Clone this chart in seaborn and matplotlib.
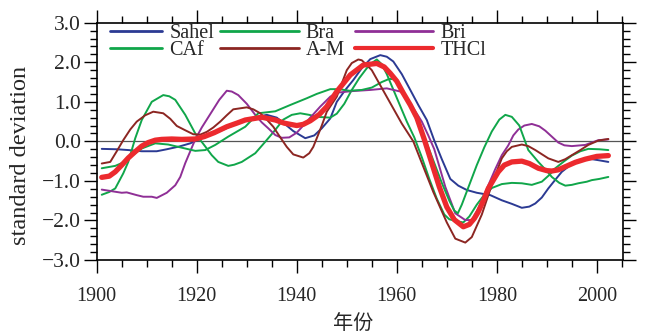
import numpy as np
import pandas as pd
import matplotlib
matplotlib.use("Agg")
import matplotlib.pyplot as plt
import seaborn as sns
from matplotlib.ticker import MultipleLocator, FuncFormatter

# ---------------- data ----------------
sahel_years = [1901, 1904, 1906.3, 1909, 1912, 1914, 1916.5, 1918.7, 1920.5, 1922.7, 1925, 1927.3,
               1930.7, 1934, 1936, 1937.5, 1939.3, 1941.7, 1943.5, 1945, 1946.7, 1948, 1949.7,
               1951.3, 1953, 1954.7, 1956.7, 1958, 1959.3, 1961, 1962.7, 1964.3, 1966, 1967.5,
               1969, 1970.7, 1972.3, 1974, 1976, 1978.7, 1981, 1983, 1985, 1986.5, 1987.7, 1989,
               1990.3, 1991.7, 1993, 1994.7, 1996.3, 1999, 2000.5, 2002.3]
sahel_vals = [-0.19, -0.20, -0.22, -0.25, -0.25, -0.20, -0.13, -0.05, 0.05, 0.16, 0.28, 0.41,
              0.58, 0.67, 0.60, 0.45, 0.26, 0.08, 0.15, 0.33, 0.58, 1.00, 1.30,
              1.55, 1.85, 2.08, 2.18, 2.14, 2.02, 1.70, 1.30, 0.92, 0.54, 0.02,
              -0.45, -0.95, -1.12, -1.23, -1.30, -1.36, -1.49, -1.58, -1.68, -1.65, -1.57, -1.42,
              -1.19, -0.97, -0.77, -0.60, -0.47, -0.45, -0.48, -0.52]

bra_years = [1901, 1902.5, 1903.7, 1905.3, 1906.3, 1907.7, 1909, 1911, 1913.3, 1914.5, 1915.7,
             1917.7, 1919.7, 1921.7, 1923, 1924.3, 1926.3, 1927.5, 1929, 1931.7, 1933.7, 1935.7,
             1937.3, 1939, 1940.7, 1942.5, 1944, 1946.7, 1948, 1949.5, 1951, 1952.5, 1954, 1955,
             1956, 1957, 1958, 1959, 1960.5, 1962, 1963.5, 1965, 1966.5, 1968, 1969.5, 1970.5,
             1972, 1973.3, 1974.5, 1976, 1977.5, 1979, 1981, 1983, 1985, 1987, 1989, 1990.5,
             1991.7, 1993.5, 1995, 1996.7, 1998.3, 2000.5, 2002.3]
bra_vals = [-1.35, -1.28, -1.19, -0.81, -0.52, 0.08, 0.54, 1.00, 1.17, 1.14, 1.05,
            0.67, 0.20, -0.13, -0.35, -0.52, -0.62, -0.59, -0.52, -0.30, -0.01, 0.29,
            0.55, 0.67, 0.71, 0.67, 0.62, 0.60, 0.70, 0.95, 1.30, 1.60, 1.85, 1.98,
            2.07, 1.95, 1.70, 1.40, 0.95, 0.50, 0.10, -0.40, -0.95, -1.45, -1.85, -1.97,
            -2.02, -2.05, -1.90, -1.60, -1.35, -1.18, -1.08, -1.05, -1.06, -1.10, -1.02, -0.85,
            -0.68, -0.50, -0.36, -0.25, -0.19, -0.20, -0.22]

bri_years = [1901, 1903, 1905, 1906, 1908, 1909.3, 1911, 1912, 1914, 1915.7, 1916.7, 1917.7,
             1918.7, 1919.7, 1921, 1923, 1924.5, 1926, 1927, 1928.3, 1930, 1931.7, 1933, 1934.3,
             1935.7, 1937, 1938.5, 1940, 1941.3, 1942.7, 1944.7, 1946.7, 1948, 1951, 1954.7,
             1958, 1960.7, 1962, 1963.3, 1965, 1966.3, 1967.5, 1969.7, 1971.7, 1973.7, 1975,
             1976.5, 1978.3, 1979.7, 1981, 1982.3, 1983.3, 1984.3, 1985.5, 1987, 1988.5, 1989.7,
             1991, 1992.3, 1993.5, 1995, 1997.7, 1999, 2000.3, 2002.3]
bri_vals = [-1.22, -1.26, -1.30, -1.29, -1.36, -1.40, -1.40, -1.43, -1.30, -1.11, -0.90, -0.55,
            -0.25, 0.05, 0.35, 0.75, 1.05, 1.28, 1.26, 1.17, 0.95, 0.67, 0.48, 0.33,
            0.16, 0.09, 0.10, 0.22, 0.40, 0.60, 0.88, 1.13, 1.23, 1.27, 1.30,
            1.34, 1.26, 1.10, 0.84, 0.50, 0.15, -0.20, -1.15, -1.82, -1.99, -1.99,
            -1.65, -1.11, -0.70, -0.35, -0.10, 0.15, 0.30, 0.40, 0.44, 0.38, 0.27,
            0.12, -0.03, -0.10, -0.12, -0.09, -0.03, 0.03, 0.05]

caf_years = [1901, 1903.7, 1905, 1906.3, 1909, 1911.7, 1914.3, 1917, 1919.7, 1921.7, 1923.7,
             1926.3, 1929.7, 1932.3, 1935.7, 1938.7, 1942, 1944, 1946.7, 1948.5, 1950.5, 1953,
             1955, 1957, 1958.5, 1959.5, 1960.5, 1961.7, 1963, 1964.5, 1966, 1967.5, 1969,
             1970.5, 1971.5, 1972.2, 1973, 1974.5, 1976, 1977.5, 1979, 1980.5, 1981.7, 1983,
             1984.5, 1986.3, 1988.3, 1990, 1991, 1992.5, 1993.7, 1995, 1996.3, 1998, 1999,
             2000.5, 2002.3]
caf_vals = [-0.68, -0.62, -0.55, -0.43, -0.18, -0.05, -0.08, -0.16, -0.24, -0.22, -0.09,
            0.12, 0.37, 0.71, 0.76, 0.92, 1.09, 1.20, 1.32, 1.32, 1.28, 1.30,
            1.36, 1.50, 1.58, 1.57, 1.45, 1.15, 0.80, 0.40, -0.05, -0.55, -1.05,
            -1.50, -1.75, -1.82, -1.60, -1.10, -0.60, -0.15, 0.25, 0.55, 0.67, 0.62,
            0.40, -0.22, -0.52, -0.75, -0.90, -1.05, -1.12, -1.10, -1.06, -1.02, -0.98,
            -0.95, -0.90]

am_years = [1901, 1902.7, 1904, 1905.3, 1906.7, 1908, 1909.7, 1911.3, 1913.3, 1914.7, 1916,
            1917.7, 1919.3, 1920.7, 1922, 1923.3, 1924.7, 1926, 1927.3, 1930, 1931.3, 1932.7,
            1934, 1935.3, 1936.7, 1938, 1939.3, 1941.3, 1942.5, 1943.3, 1944, 1945, 1946, 1948,
            1950, 1951, 1952.3, 1953, 1954, 1955, 1957, 1959, 1961, 1963.3, 1964.7, 1967.3,
            1970, 1971.7, 1973.7, 1975, 1977, 1978.3, 1979.7, 1981, 1982, 1983, 1985, 1986.3,
            1987.7, 1990.3, 1992.3, 1993.7, 1995, 1996.7, 1998.3, 2000.3, 2002.3]
am_vals = [-0.56, -0.52, -0.25, 0.03, 0.30, 0.50, 0.66, 0.75, 0.71, 0.57, 0.39,
           0.28, 0.18, 0.17, 0.24, 0.35, 0.50, 0.66, 0.81, 0.86, 0.81, 0.71,
           0.55, 0.37, 0.10, -0.14, -0.33, -0.41, -0.30, -0.14, 0.08, 0.40, 0.75, 1.13,
           1.80, 1.98, 2.07, 2.05, 1.93, 1.80, 1.35, 0.90, 0.45, 0.00, -0.45, -1.28,
           -2.05, -2.46, -2.56, -2.42, -1.85, -1.36, -0.85, -0.43, -0.25, -0.14, -0.08, -0.12,
           -0.22, -0.43, -0.52, -0.45, -0.35, -0.22, -0.09, 0.02, 0.06]

thcl_years = [1901, 1902.5, 1903.7, 1905, 1906.3, 1907.7, 1909, 1910.3, 1911.7, 1913, 1915,
              1917, 1919.7, 1921.5, 1923.5, 1926, 1928, 1929.7, 1933, 1935.7, 1937.5, 1940,
              1941.3, 1942.7, 1944.5, 1946, 1948, 1950.7, 1953.3, 1956, 1957.5, 1958.7, 1960,
              1961.3, 1962.7, 1964, 1965.5, 1967, 1968.5, 1970, 1971.5, 1973.3, 1974.5, 1975.5,
              1976.3, 1977.3, 1978.3, 1980.3, 1981.5, 1983, 1985, 1986.5, 1988.3, 1990, 1991,
              1992.3, 1993.7, 1995.7, 1997.7, 2000, 2002.3]
thcl_vals = [-0.91, -0.88, -0.77, -0.60, -0.42, -0.26, -0.12, -0.03, 0.03, 0.05, 0.06,
             0.05, 0.06, 0.12, 0.22, 0.37, 0.46, 0.54, 0.61, 0.54, 0.46, 0.40,
             0.43, 0.52, 0.68, 0.88, 1.26, 1.68, 1.93, 1.97, 1.88, 1.72, 1.52,
             1.22, 0.92, 0.60, 0.05, -0.55, -1.15, -1.66, -1.98, -2.16, -2.10, -1.95,
             -1.78, -1.50, -1.19, -0.77, -0.60, -0.52, -0.50, -0.56, -0.68, -0.74, -0.75,
             -0.72, -0.64, -0.53, -0.45, -0.38, -0.36]

series_names = ["Sahel", "Bra", "Bri", "CAf", "A-M", "THCl"]
x_ticks = [1900, 1920, 1940, 1960, 1980, 2000]
y_ticks = [-3.0, -2.0, -1.0, 0.0, 1.0, 2.0, 3.0]

# ---------------- style ----------------
sns.set_style("ticks")
plt.rcParams["font.family"] = ["Liberation Serif", "Noto Sans CJK SC"]
plt.rcParams["axes.unicode_minus"] = True

colors = {"Sahel": "#2b3a93", "Bra": "#10a64a", "Bri": "#8f2f96",
          "CAf": "#10a64a", "A-M": "#8c2622", "THCl": "#ec2a2e"}
widths = {"Sahel": 1.4, "Bra": 1.4, "Bri": 1.4, "CAf": 1.4, "A-M": 1.4, "THCl": 3.8}

data = {"Sahel": (sahel_years, sahel_vals), "Bra": (bra_years, bra_vals),
        "Bri": (bri_years, bri_vals), "CAf": (caf_years, caf_vals),
        "A-M": (am_years, am_vals), "THCl": (thcl_years, thcl_vals)}

frames = []
for name in series_names:
    yrs, vals = data[name]
    frames.append(pd.DataFrame({"year": yrs, "value": vals, "series": name}))
df = pd.concat(frames, ignore_index=True)

fig = plt.figure(figsize=(6.45, 3.33), dpi=100)
ax = fig.add_axes([0.150, 0.2192, 0.8164, 0.7126])

ax.axhline(0, color="#555555", lw=0.9, zorder=1)

handles = {}
for i, name in enumerate(series_names):
    sub = df[df["series"] == name]
    sns.lineplot(data=sub, x="year", y="value", ax=ax, color=colors[name],
                 lw=widths[name], estimator=None, sort=False, legend=False,
                 zorder=10 if name == "THCl" else 3 + i)
    handles[name] = ax.lines[-1]
    handles[name].set_solid_joinstyle("round")

ax.set_xlim(1900, 2005.3)
ax.set_ylim(-3, 3)
ax.set_xticks(x_ticks)
ax.set_yticks(y_ticks)
ax.xaxis.set_minor_locator(MultipleLocator(5))
ax.yaxis.set_minor_locator(MultipleLocator(0.2))
ax.yaxis.set_major_formatter(FuncFormatter(lambda v, p: f"{v:.1f}".replace("-", "\u2212")))

for s in ax.spines.values():
    s.set_visible(True)
    s.set_linewidth(1.2)
    s.set_color("black")

ax.tick_params(which="both", direction="out", top=True, right=True,
               labeltop=False, labelright=False, color="black", width=1.0)
ax.tick_params(which="major", length=9.5)
ax.tick_params(which="minor", length=5)
ax.tick_params(axis="x", which="major", labelsize=14.5, pad=10)
ax.tick_params(axis="y", which="major", labelsize=15.5, pad=2)

ax.set_ylabel("standard deviation", fontsize=17.5)
ax.yaxis.set_label_coords(-0.124, 0.44)
ax.set_xlabel("年份", fontsize=14.5, family=["Noto Sans CJK SC"])
ax.xaxis.set_label_coords(0.487, -0.225)

leg_kw = dict(loc="upper left", frameon=False, fontsize=14.5, handletextpad=0.35,
              labelspacing=-0.08, borderpad=0, borderaxespad=0)
leg1 = ax.legend([handles["Sahel"], handles["CAf"]], ["Sahel", "CAf"],
                 bbox_to_anchor=(0.025, 0.995), handlelength=2.6, **leg_kw)
ax.add_artist(leg1)
leg2 = ax.legend([handles["Bra"], handles["A-M"], handles["Bri"], handles["THCl"]],
                 ["Bra", "A-M", "Bri", "THCl"], ncol=2,
                 bbox_to_anchor=(0.234, 0.995), handlelength=3.9, columnspacing=0.5, **leg_kw)
for lg in (leg1, leg2):
    for ln in lg.get_lines():
        ln.set_linewidth(3.0 if ln.get_linewidth() > 3 else 2.0)

fig.savefig("out.png", dpi=100)
